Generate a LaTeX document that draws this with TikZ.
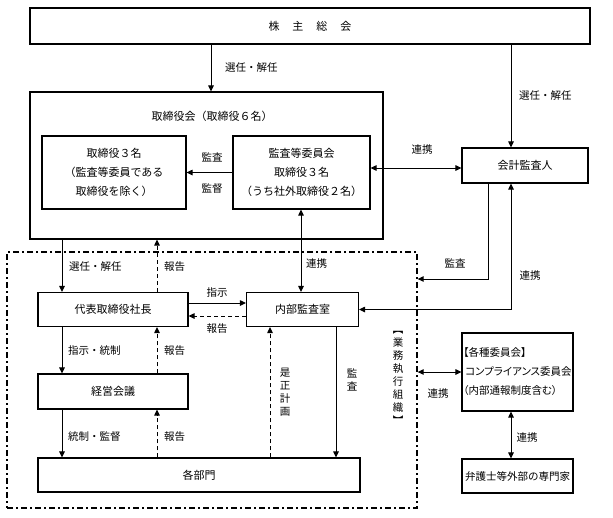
\documentclass[tikz,border=0pt]{standalone}
\usepackage{fontspec}
\setmainfont{Noto Sans CJK JP}
\usetikzlibrary{arrows.meta}
\begin{document}
\begin{tikzpicture}[x=1pt,y=-1pt,
  box/.style={draw, line width=1.1pt, inner sep=0pt, align=center, font=\fontsize{11}{19}\selectfont},
  lbl/.style={inner sep=0pt, font=\fontsize{10.5}{13}\selectfont},
  vlbl/.style={inner sep=0pt, align=center, font=\fontsize{10.5}{13}\selectfont},
  arr/.style={line width=1pt, -{Triangle[length=6pt,width=5.5pt]}},
  darr/.style={line width=1pt, {Triangle[length=6pt,width=5.5pt]}-{Triangle[length=6pt,width=5.5pt]}},
  rep/.style={arr, dash pattern=on 4pt off 3pt},
  execbox/.style={draw, line width=1.3pt, dash pattern=on 6pt off 3pt on 2pt off 3pt, inner sep=0pt}
]
\useasboundingbox (0,0) rectangle (613,517);

% guides
\coordinate (gA) at (211,0);
\coordinate (gB) at (511,0);
\coordinate (gC) at (488,0);
\coordinate (gL) at (62,0);
\coordinate (gR) at (157,0);
\coordinate (gD) at (301,0);
\coordinate (gE) at (270,0);
\coordinate (gF) at (336,0);
\coordinate (r168) at (0,168);
\coordinate (r279) at (0,279);
\coordinate (r303) at (0,303);
\coordinate (r316) at (0,316);

% execution organisation border
\node[execbox, minimum width=410pt, minimum height=256pt] (exec) at (212,380) {};

% boxes
\node[box, minimum width=560pt, minimum height=36pt] (sh) at (310,26) {株\hspace{13pt}主\hspace{13pt}総\hspace{13pt}会};
\node[box, minimum width=353pt, minimum height=147pt] (bod) at (206.5,165.5) {};
\node[lbl, font=\fontsize{11}{13}\selectfont] (bodt) at (212,116) {取締役会（取締役６名）};
\node[box, minimum width=144pt, minimum height=73pt] (d3) at (114,172.5) {取締役３名\\（監査等委員である\\取締役を除く）};
\node[box, minimum width=137pt, minimum height=73pt] (ac) at (301.5,172.5) {監査等委員会\\取締役３名\\（うち社外取締役２名）};
\node[box, minimum width=126pt, minimum height=35pt] (ka) at (525,165.5) {会計監査人};
\node[box, minimum width=150pt, minimum height=34pt] (pres) at (113,309.5) {代表取締役社長};
\node[box, minimum width=112pt, minimum height=34pt] (ia) at (302.5,309.5) {内部監査室};
\node[box, minimum width=150pt, minimum height=35pt] (mgmt) at (113,391.5) {経営会議};
\node[box, minimum width=322pt, minimum height=34pt] (dept) at (199,475) {各部門};
\node[box, minimum width=111pt, minimum height=78pt, align=left, font=\fontsize{10.5}{19}\selectfont] (comp) at (517.5,372) {\addfontfeatures{RawFeature=+palt}【各種委員会】\\\addfontfeatures{RawFeature=+palt}\hspace{2pt}コンプライアンス委員会\\\addfontfeatures{RawFeature=+palt}（内部通報制度含む）};
\node[box, minimum width=111pt, minimum height=34pt, font=\fontsize{10.5}{13}\selectfont] (law) at (517.5,476) {弁護士等外部の専門家};

% connectors
\draw[arr] (sh.south -| gA) -- (bod.north -| gA);
\draw[arr] (sh.south -| gB) -- (ka.north -| gB);
\draw[arr] (ac.west) -- (d3.east);
\draw[darr] (ac.east |- r168) -- (ka.west |- r168);
\draw[arr] (ka.south -| gC) |- (exec.east |- r279);
\draw[darr] (ka.south -| gB) |- (ia.east);
\draw[darr] (ac.south -| gD) -- (ia.north -| gD);
\draw[arr] (bod.south -| gL) -- (pres.north -| gL);
\draw[rep] (pres.north -| gR) -- (bod.south -| gR);
\draw[arr] (pres.east |- r303) -- (ia.west |- r303);
\draw[rep] (ia.west |- r316) -- (pres.east |- r316);
\draw[arr] (pres.south -| gL) -- (mgmt.north -| gL);
\draw[rep] (mgmt.north -| gR) -- (pres.south -| gR);
\draw[arr] (mgmt.south -| gL) -- (dept.north -| gL);
\draw[rep] (dept.north -| gR) -- (mgmt.south -| gR);
\draw[rep] (dept.north -| gE) -- (ia.south -| gE);
\draw[arr] (ia.south -| gF) -- (dept.north -| gF);
\draw[darr] (exec.east |- comp.west) -- (comp.west);
\draw[darr] (comp.south -| gB) -- (law.north -| gB);

% labels
\node[lbl, anchor=west] (l1) at (225,68) {選任・解任};
\node[lbl, anchor=west] (l2) at (519,96) {選任・解任};
\node[lbl] (l3) at (212,157) {監査};
\node[lbl] (l4) at (212,189) {監督};
\node[lbl] (l5) at (422,150) {連携};
\node[lbl] (l6) at (455,263) {監査};
\node[lbl] (l7) at (530,276) {連携};
\node[lbl, anchor=west] (l8) at (69,267) {選任・解任};
\node[lbl, anchor=west] (l9) at (164,267) {報告};
\node[lbl, anchor=west] (l10) at (306,264) {連携};
\node[lbl] (l11) at (217,293) {指示};
\node[lbl] (l12) at (217,329) {報告};
\node[lbl, anchor=west] (l13) at (68,351) {指示・統制};
\node[lbl, anchor=west] (l14) at (164,351) {報告};
\node[lbl, anchor=west] (l15) at (68,437) {統制・監督};
\node[lbl, anchor=west] (l16) at (164,437) {報告};
\node[vlbl] (l17) at (285,392.5) {是\\正\\計\\画};
\node[vlbl] (l18) at (352,380) {監\\査};
\node[vlbl] (l19) at (398,378) {︻\\業\\務\\執\\行\\組\\織\\︼};
\node[lbl] (l20) at (438,394) {連携};
\node[lbl] (l21) at (527,438) {連携};
\end{tikzpicture}
\end{document}
